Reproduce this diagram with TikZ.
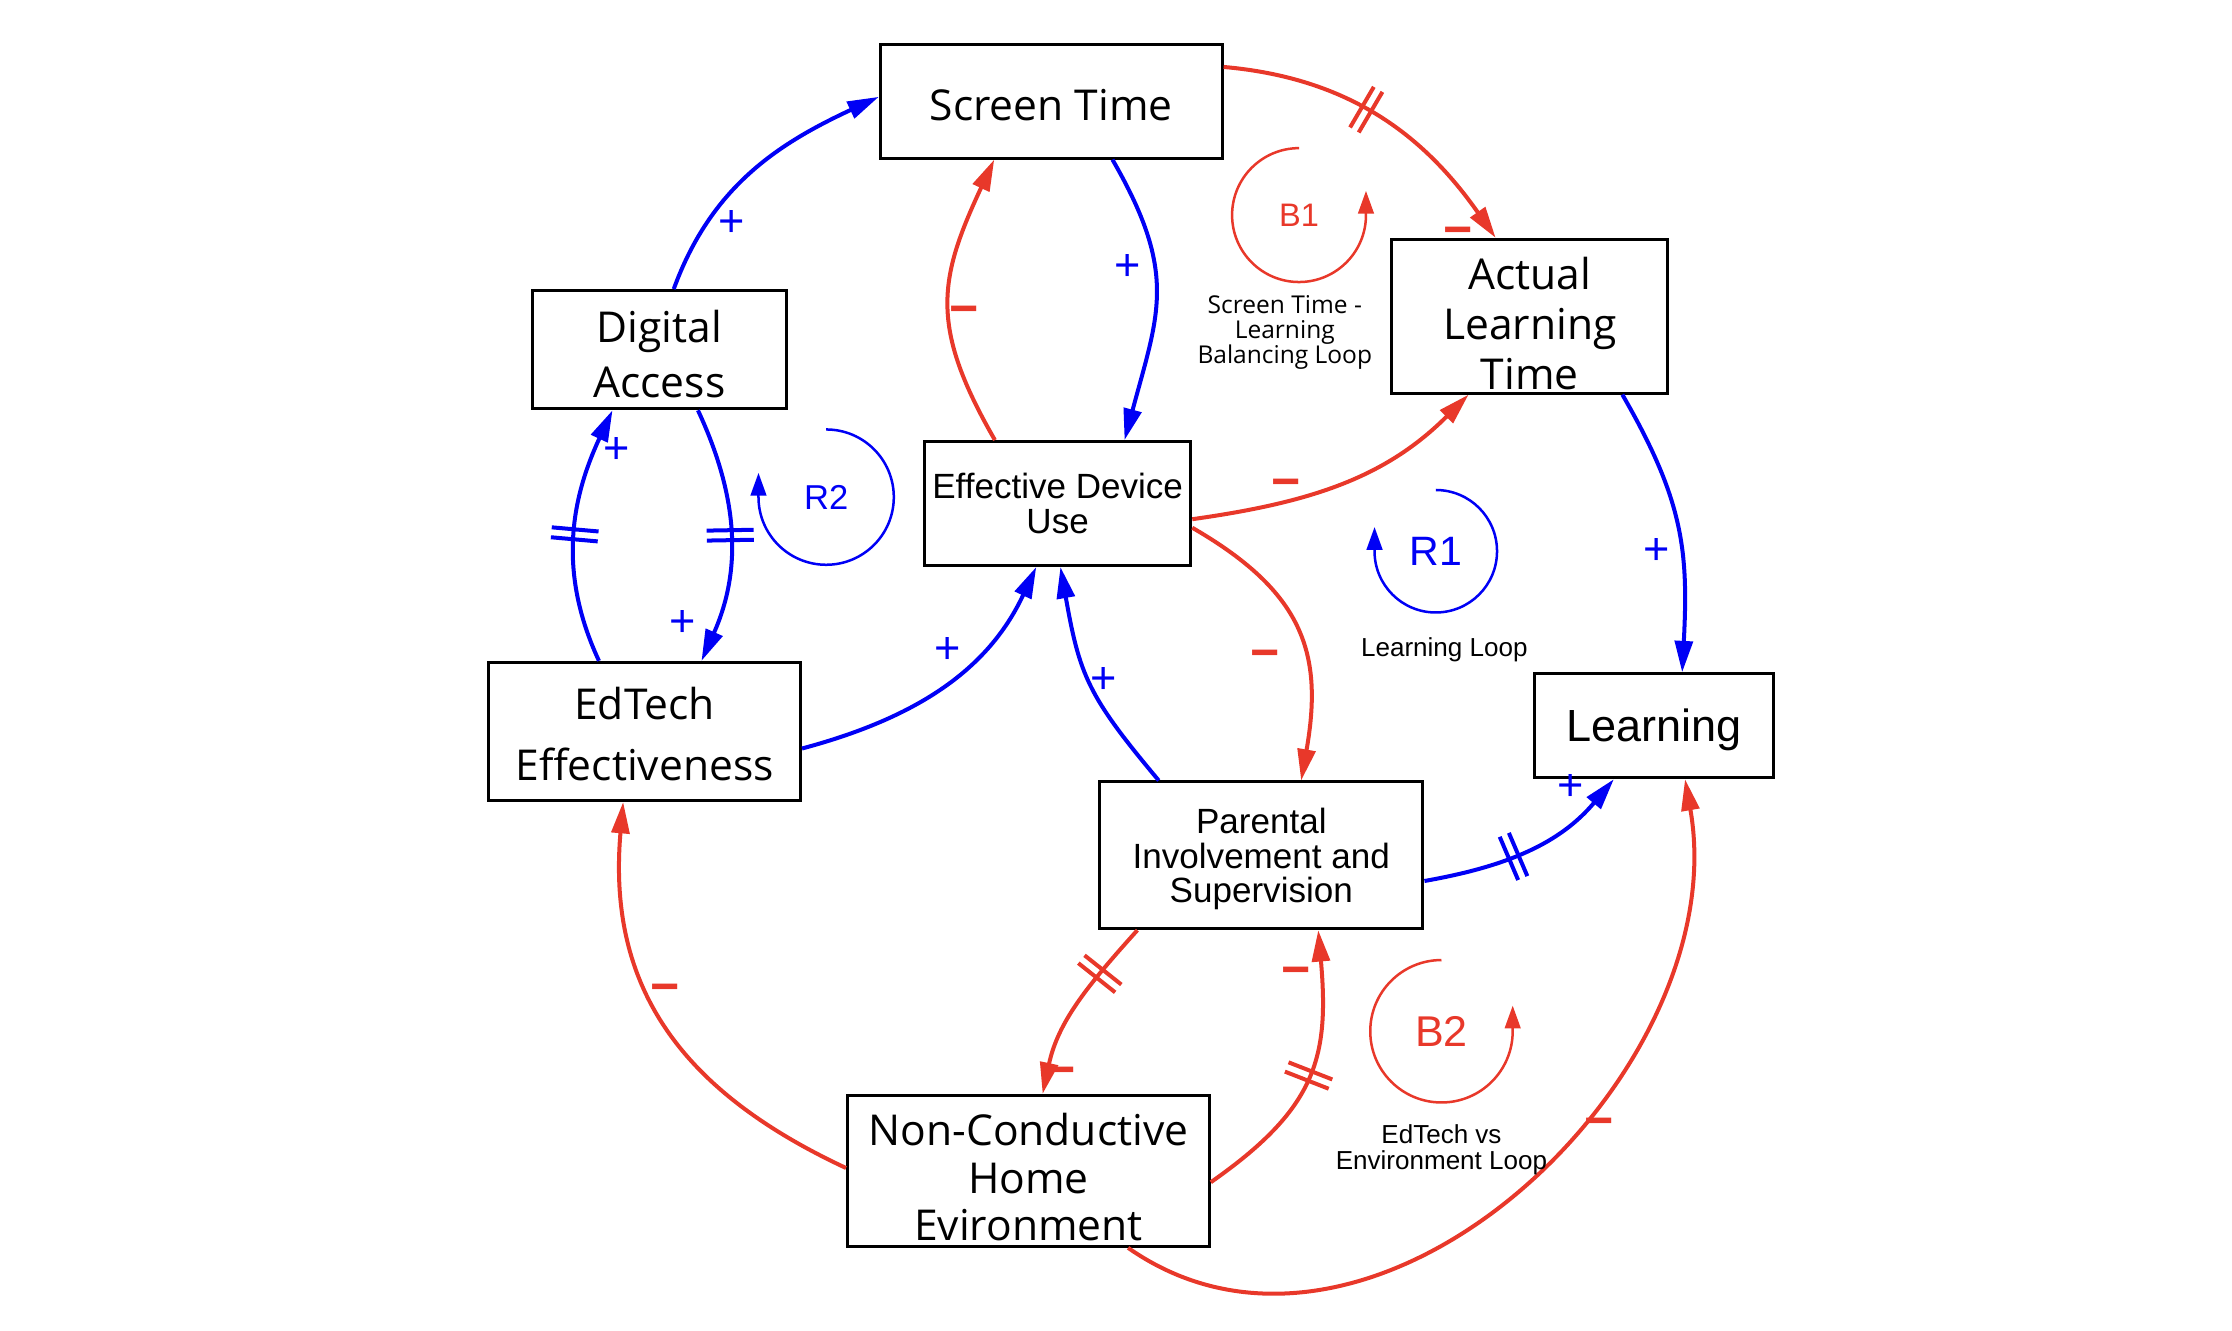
\documentclass[tikz,border=0pt]{standalone}
\usepackage{fontspec}
\setmainfont{Open Sans}
\newfontfamily\arialfont{Liberation Sans}
\usepackage{tikz}
\usetikzlibrary{arrows.meta,positioning,decorations.markings}

\definecolor{posblue}{RGB}{0,0,245}
\definecolor{negred}{RGB}{232,56,42}
\newcommand{\toppad}[1]{\rule{0pt}{#1}}

\begin{document}
\begin{tikzpicture}[x=1cm, y=1cm,
		>={Triangle[length=2.2mm,width=1.25mm]},
		var/.style={draw, line width=0.6pt, align=center, inner sep=0pt, font=\fontsize{8.5}{11}\selectfont},
		avar/.style={var, font=\arialfont\fontsize{7}{6.9}\selectfont},
		link/.style={->, line width=0.8pt},
		poslink/.style={link, color=posblue},
		neglink/.style={link, color=negred},
		possgn/.style={inner sep=0pt, text=posblue, font=\arialfont\fontsize{9}{9}\selectfont},
		negsgn/.style={inner sep=0pt, yshift=-0.5mm, text=negred, font=\arialfont\bfseries\fontsize{10}{10}\selectfont},
		delaymark/.style={postaction={decorate, decoration={markings, mark=at position #1 with {\draw[-, line width=0.8pt] (-0.35mm,-1.65mm) -- (-0.35mm,1.65mm) (0.35mm,-1.65mm) -- (0.35mm,1.65mm);}}}},
		looparc/.style={->, >={Triangle[length=1.6mm,width=1.1mm]}, line width=0.5pt},
		looplbl/.style={inner sep=0pt, font=\arialfont\fontsize{#1}{#1}\selectfont},
		note/.style={inner sep=0pt, align=center, font=\fontsize{4.9}{5}\selectfont}]
				\useasboundingbox (0,0) rectangle (15.67,-9.338);
				
				% Variables
				\node [var, minimum width=2.40cm, minimum height=0.80cm] (st) at (7.38,-0.71) {\toppad{2.7mm}Screen Time};
				\node [var, minimum width=1.78cm, minimum height=0.83cm, font=\fontsize{8.5}{11.1}\selectfont] (da) at (4.63,-2.455) {\toppad{2.9mm}Digital\\Access};
				\node [var, minimum width=1.94cm, minimum height=1.08cm, font=\fontsize{8.5}{9.9}\selectfont] (alt) at (10.74,-2.22) {\toppad{3.3mm}Actual\\Learning\\Time};
				\node [avar, minimum width=1.87cm, minimum height=0.87cm] (edu) at (7.425,-3.535) {Effective Device\\Use};
				\node [var, minimum width=2.19cm, minimum height=0.97cm, font=\fontsize{8.5}{12.2}\selectfont] (et) at (4.525,-5.135) {\toppad{2.7mm}EdTech\\Effectiveness};
				\node [avar, minimum width=1.68cm, minimum height=0.73cm, font=\arialfont\fontsize{9}{9}\selectfont] (lrn) at (11.61,-5.095) {\toppad{2.9mm}Learning};
				\node [avar, minimum width=2.27cm, minimum height=1.03cm] (pis) at (8.855,-6.005) {\toppad{2.3mm}Parental\\Involvement and\\Supervision};
				\node [var, minimum width=2.54cm, minimum height=1.06cm, font=\fontsize{8.5}{9.5}\selectfont] (nche) at (7.22,-8.22) {\toppad{3.2mm}Non-Conductive\\Home\\Evironment};
				
				% Links
				\draw [poslink] ([xshift=1mm]da.north) to[out=70,in=205] ([yshift=0.3mm]st.west);
				\draw [poslink] ([xshift=4.3mm]st.south) to[out=-60,in=75,looseness=1.2] ([xshift=4.7mm]edu.north);
				\draw [neglink] ([xshift=-4.4mm]edu.north) to[out=120,in=-115,looseness=1.2] ([xshift=-4mm]st.south);
				\draw [neglink, delaymark=0.45] ([yshift=2.4mm]st.east) to[out=-5,in=125] ([xshift=-2.4mm]alt.north);
				\draw [neglink] ([yshift=-1.1mm]edu.east) to[out=8,in=225] ([xshift=-4.3mm]alt.south);
				\draw [neglink] ([yshift=-1.7mm]edu.east) to[out=-30,in=80,looseness=1.2] ([xshift=2.8mm]pis.north);
				\draw [poslink] ([xshift=6.5mm]alt.south) to[out=-60,in=87,looseness=1.1] ([xshift=2mm]lrn.north);
				\draw [poslink] ([yshift=-1.2mm]et.east) to[out=15,in=245] ([xshift=-1.5mm]edu.south);
				\draw [poslink] ([xshift=-7.2mm]pis.north) to[out=130,in=-80,looseness=1.2] ([xshift=0.2mm]edu.south);
				\draw [poslink, delaymark=0.5] ([xshift=-3.2mm]et.north) to[out=115,in=-115] ([xshift=-3.3mm]da.south);
				\draw [poslink, delaymark=0.5] ([xshift=2.7mm]da.south) to[out=-65,in=66] ([xshift=4mm]et.north);
				\draw [poslink, delaymark=0.42] ([yshift=-1.8mm]pis.east) to[out=10,in=230] ([xshift=-2.8mm]lrn.south);
				\draw [neglink, delaymark=0.3] ([xshift=-8.7mm]pis.south) to[out=-132,in=78] ([xshift=1mm]nche.north);
				\draw [neglink, delaymark=0.5] ([yshift=-0.8mm]nche.east) to[out=35,in=-85,looseness=1.2] ([xshift=4mm]pis.south);
				\draw [neglink] ([yshift=0.2mm]nche.west) to[out=155,in=-95,looseness=1.1] ([xshift=-1.5mm]et.south);
				\draw [neglink] ([xshift=7mm]nche.south) to[out=-35,in=-80,looseness=1.05] ([xshift=2.2mm]lrn.south);
				
				% Polarities
				\node [possgn] (s1) at (5.14,-1.57) {+};
				\node [possgn] (s2) at (7.92,-1.88) {+};
				\node [negsgn] (s3) at (6.77,-2.17) {−};
				\node [negsgn] (s4) at (10.24,-1.61) {−};
				\node [negsgn] (s5) at (9.03,-3.38) {−};
				\node [negsgn] (s6) at (8.88,-4.58) {−};
				\node [possgn] (s7) at (11.63,-3.87) {+};
				\node [possgn] (s8) at (6.65,-4.57) {+};
				\node [possgn] (s9) at (7.75,-4.78) {+};
				\node [possgn] (s10) at (4.33,-3.16) {+};
				\node [possgn] (s11) at (4.79,-4.38) {+};
				\node [possgn] (s12) at (11.03,-5.53) {+};
				\node [negsgn] (s13) at (7.45,-7.51) {−};
				\node [negsgn] (s14) at (9.1,-6.81) {−};
				\node [negsgn] (s15) at (4.67,-6.93) {−};
				\node [negsgn] (s16) at (11.23,-7.87) {−};
				
				% Loops
				\node [looplbl=6.5, text=negred] (b1) at (9.12,-1.51) {B1};
				\draw [looparc, negred] ([yshift=4.7mm]b1.center) arc[start angle=90, end angle=360, radius=4.7mm] -- ++(0,1.7mm);
				\node [note, below=4.7mm of b1, xshift=-1mm] (b1note) {Screen Time -\\Learning\\Balancing Loop};
				
				\node [looplbl=6.9, text=posblue] (r2) at (5.80,-3.49) {R2};
				\draw [looparc, posblue] ([yshift=4.75mm]r2.center) arc[start angle=90, end angle=-180, radius=4.75mm] -- ++(0,1.7mm);
				
				\node [looplbl=8.2, text=posblue] (r1) at (10.08,-3.87) {R1};
				\draw [looparc, posblue] ([yshift=4.3mm]r1.center) arc[start angle=90, end angle=-180, radius=4.3mm] -- ++(0,1.7mm);
				\node [note, font=\arialfont\fontsize{5.2}{5.2}\selectfont, below=4.9mm of r1, xshift=0.6mm] (r1note) {Learning Loop};
				
				\node [looplbl=8.6, text=negred] (b2) at (10.12,-7.24) {B2};
				\draw [looparc, negred] ([yshift=5mm]b2.center) arc[start angle=90, end angle=360, radius=5mm] -- ++(0,1.8mm);
				\node [note, font=\arialfont\fontsize{5.2}{5.3}\selectfont, below=5.35mm of b2] (b2note) {EdTech vs\\Environment Loop};
			\end{tikzpicture}
\end{document}
